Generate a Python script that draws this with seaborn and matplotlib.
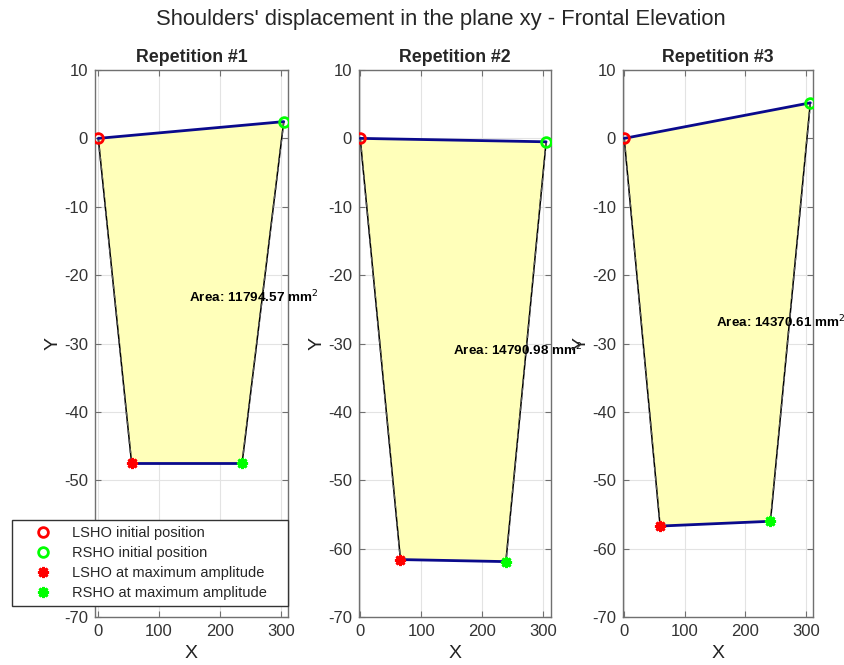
import numpy as np
import pandas as pd
import matplotlib
matplotlib.use("Agg")
import matplotlib.pyplot as plt
import seaborn as sns

# Shoulder marker positions (mm) for each repetition
repetitions = ["Repetition #1", "Repetition #2", "Repetition #3"]
lsho_init_x = [0.0, 0.0, 0.0]
lsho_init_y = [0.0, 0.0, 0.0]
rsho_init_x = [305.0, 305.0, 307.6]
rsho_init_y = [2.45, -0.5, 5.2]
lsho_max_x = [54.8, 66.0, 59.3]
lsho_max_y = [-47.5, -61.6, -56.7]
rsho_max_x = [236.5, 239.0, 241.7]
rsho_max_y = [-47.5, -61.9, -56.0]
areas = [11794.57, 14790.98, 14370.61]

x_ticks = [0, 100, 200, 300]
y_ticks = [-70, -60, -50, -40, -30, -20, -10, 0, 10]
x_limits = [(-5.4, 312.0), (-2.0, 313.0), (-2.0, 312.0)]

sns.set_theme(style="whitegrid")
plt.rcParams["font.family"] = ["Liberation Sans", "DejaVu Sans"]
plt.rcParams["axes.unicode_minus"] = False

fig = plt.figure(figsize=(8.45, 6.65), dpi=100)
W, H = 845.0, 665.0
axes_px = [(95, 288), (359, 551), (623, 813)]
top_px, bottom_px = 70, 617

fill_color = "#FFFFBA"
navy = "#0A0A8C"
spine_color = "#707070"
tick_color = "#333333"

handles = []
for i, (left, right) in enumerate(axes_px):
    ax = fig.add_axes([left / W, 1 - bottom_px / H, (right - left) / W,
                       (bottom_px - top_px) / H])
    ax.set_facecolor("white")

    px = [lsho_init_x[i], rsho_init_x[i], rsho_max_x[i], lsho_max_x[i]]
    py = [lsho_init_y[i], rsho_init_y[i], rsho_max_y[i], lsho_max_y[i]]
    ax.fill(px, py, color=fill_color, zorder=1, linewidth=0)

    # Lateral sides (black) and shoulder lines (navy)
    sides = pd.DataFrame({
        "x": [lsho_init_x[i], lsho_max_x[i], rsho_init_x[i], rsho_max_x[i]],
        "y": [lsho_init_y[i], lsho_max_y[i], rsho_init_y[i], rsho_max_y[i]],
        "side": ["L", "L", "R", "R"],
    })
    sns.lineplot(data=sides, x="x", y="y", units="side", estimator=None,
                 sort=False, color="black", linewidth=1.1, ax=ax, zorder=2)
    sns.lineplot(data=sides, x="x", y="y", units="side", estimator=None,
                 sort=False, color="#555555", linewidth=1.1, ax=ax, zorder=2,
                 linestyle=(0, (3, 3)))

    shoulders = pd.DataFrame({
        "x": [lsho_init_x[i], rsho_init_x[i], lsho_max_x[i], rsho_max_x[i]],
        "y": [lsho_init_y[i], rsho_init_y[i], lsho_max_y[i], rsho_max_y[i]],
        "pos": ["init", "init", "max", "max"],
    })
    sns.lineplot(data=shoulders, x="x", y="y", units="pos", estimator=None,
                 sort=False, color=navy, linewidth=2.0, ax=ax, zorder=3)

    h1, = ax.plot(lsho_init_x[i], lsho_init_y[i], "o", ms=7, mfc="none",
                  mec="#FF0000", mew=2, label="LSHO initial position", zorder=5)
    h2, = ax.plot(rsho_init_x[i], rsho_init_y[i], "o", ms=7, mfc="none",
                  mec="#00FF00", mew=2, label="RSHO initial position", zorder=5)
    h3, = ax.plot(lsho_max_x[i], lsho_max_y[i], marker=(8, 2, 0), ls="none",
                  ms=8, mec="#FF0000", mfc="#FF0000", mew=2,
                  label="LSHO at maximum amplitude", zorder=5)
    h4, = ax.plot(rsho_max_x[i], rsho_max_y[i], marker=(8, 2, 0), ls="none",
                  ms=8, mec="#00FF00", mfc="#00FF00", mew=2,
                  label="RSHO at maximum amplitude", zorder=5)
    if i == 0:
        handles = [h1, h2, h3, h4]

    cx = np.mean(px)
    cy = np.mean(py)
    ax.text(cx, cy, f"Area: {areas[i]:.2f} mm$^2$", fontsize=9.7,
            fontweight="bold", ha="left", va="center", color="black",
            zorder=6, clip_on=False)

    ax.set_xlim(*x_limits[i])
    ax.set_ylim(-70, 10)
    ax.set_xticks(x_ticks)
    ax.set_yticks(y_ticks)
    ax.grid(True, color="#E3E3E3", linewidth=0.8)
    ax.tick_params(direction="in", length=4, width=0.8, colors=spine_color,
                   labelcolor=tick_color, labelsize=12, top=True, right=True,
                   bottom=True, left=True, pad=5)
    for s in ax.spines.values():
        s.set_visible(True)
        s.set_color(spine_color)
        s.set_linewidth(1.0)
    ax.set_xlabel("X", fontsize=14, color="#222222", labelpad=4)
    ax.set_ylabel("Y", fontsize=14, color="#222222", labelpad=2)
    ax.set_title(repetitions[i], fontsize=12.8, fontweight="bold", pad=6)

    if i == 0:
        # the -60 label sits underneath the legend box
        fig.canvas.draw()
        for lbl in ax.get_yticklabels():
            if lbl.get_text() == "-60":
                lbl.set_visible(False)

fig.legend(handles=handles, loc="lower left",
           bbox_to_anchor=(12 / W, 1 - 606 / H, 276 / W, 84 / H),
           mode="expand", fontsize=10.5, frameon=True, fancybox=False,
           edgecolor="#333333", framealpha=1, borderpad=0.4,
           labelspacing=0.42, handlelength=3.5, handletextpad=0.2,
           borderaxespad=0)

fig.suptitle("Shoulders' displacement in the plane xy - Frontal Elevation",
             fontsize=15.8, x=441 / W, y=1 - 20 / H, va="center")

fig.savefig("out.png", dpi=100)
